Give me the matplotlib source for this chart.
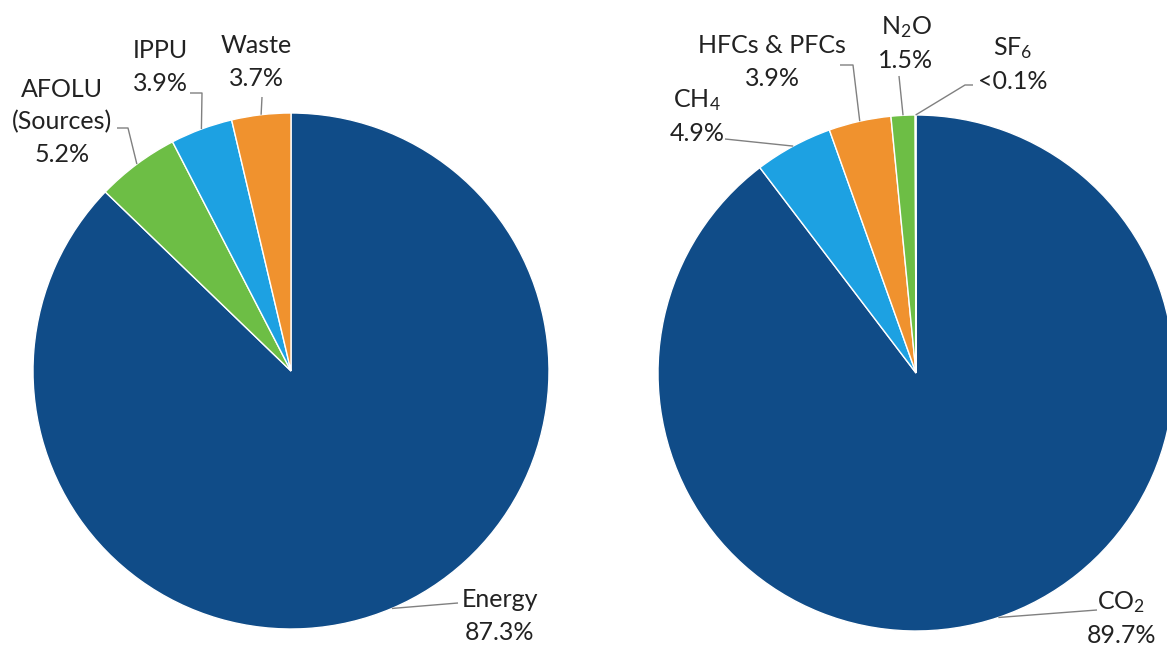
import matplotlib.pyplot as plt
import numpy as np

W, H = 1167, 648

# left pie: emissions by sector (%)
sector_names = ["Energy", "AFOLU\n(Sources)", "IPPU", "Waste"]
sector_values = [87.3, 5.2, 3.9, 3.7]
sector_text = ["87.3%", "5.2%", "3.9%", "3.7%"]

# right pie: emissions by gas (%)
gas_names = [r"CO$_\mathregular{2}$", r"CH$_\mathregular{4}$", "HFCs & PFCs",
             r"N$_\mathregular{2}$O", r"SF$_\mathregular{6}$"]
gas_values = [89.7, 4.9, 3.9, 1.5, 0.05]
gas_text = ["89.7%", "4.9%", "3.9%", "1.5%", "<0.1%"]

DARK = "#104c88"
LIGHT = "#1da1e2"
GREEN = "#6dbe45"
ORANGE = "#f0922e"
sector_colors = [DARK, GREEN, LIGHT, ORANGE]
gas_colors = [DARK, LIGHT, ORANGE, GREEN, "#9e9e9e"]

plt.rcParams["font.family"] = ["Lato", "DejaVu Sans"]
plt.rcParams["mathtext.fontset"] = "custom"
plt.rcParams["mathtext.rm"] = "Lato"
plt.rcParams["mathtext.it"] = "Lato:italic"
plt.rcParams["mathtext.bf"] = "Lato:bold"


def px(x, y):
    """Picture pixel coordinates (y down) to axes data (y up)."""
    return x, H - y


def draw_pie(ax, values, colors, names, pcts, center, radius, layout):
    wedges, _ = ax.pie(values, colors=colors, startangle=90, counterclock=False,
                       center=px(*center), radius=radius,
                       wedgeprops=dict(edgecolor="white", linewidth=1.0))
    cx, cy = px(*center)
    for w, name, pct, (tx, ty, path) in zip(wedges, names, pcts, layout):
        ax.text(*px(tx, ty), f"{name}\n{pct}", ha="center", va="center",
                fontsize=18, color="#222222", linespacing=1.5)
        mid = np.deg2rad((w.theta1 + w.theta2) / 2)
        ax_x = cx + radius * np.cos(mid)
        ax_y = cy + radius * np.sin(mid)
        pts = [px(*p) for p in path] + [(ax_x, ax_y)]
        xs, ys = zip(*pts)
        ax.plot(xs, ys, color="#808080", lw=1.0, solid_capstyle="butt")


fig = plt.figure(figsize=(W / 100, H / 100), dpi=100)
ax = fig.add_axes([0, 0, 1, 1])

left_layout = [
    (500, 616, [(458, 603)]),
    (62, 122, [(117, 128), (128, 128)]),
    (160, 67, [(190, 93), (202, 93)]),
    (256, 62, [(262, 97)]),
]
right_layout = [
    (1121, 618, [(1097, 610)]),
    (697, 116, [(725, 139)]),
    (772, 62, [(840, 65), (853, 65)]),
    (906, 43, [(899, 76)]),
    (1013, 64, [(973, 85), (965, 85)]),
]

draw_pie(ax, sector_values, sector_colors, sector_names, sector_text,
         (291, 371), 258, left_layout)
draw_pie(ax, gas_values, gas_colors, gas_names, gas_text,
         (916, 373), 258, right_layout)

ax.set_xlim(0, W)
ax.set_ylim(0, H)
ax.set_aspect("auto")
ax.axis("off")

fig.savefig("out.png", dpi=100, facecolor="white")
